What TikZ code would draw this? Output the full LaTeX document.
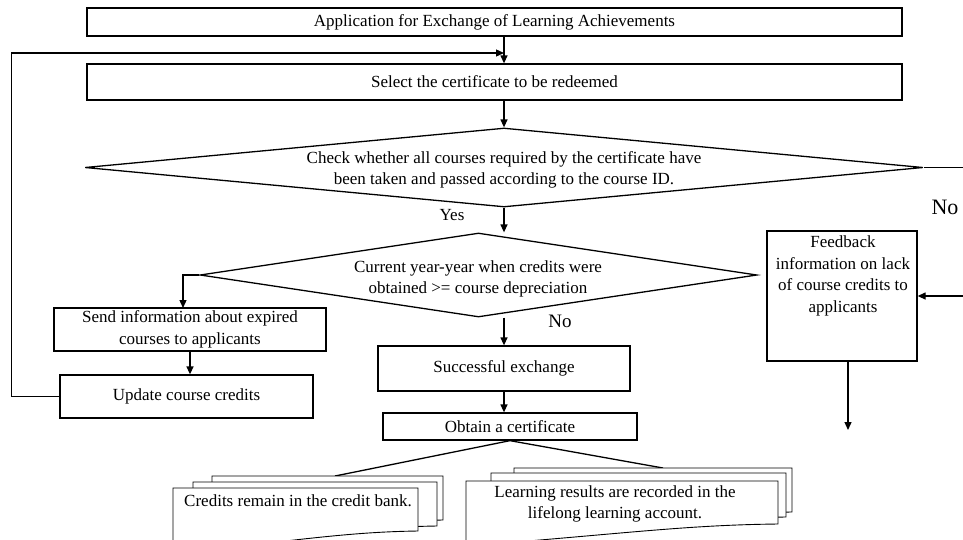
\documentclass[tikz,border=0pt]{standalone}
\usepackage{fontspec}
\setmainfont{Liberation Serif}
\usetikzlibrary{shapes.geometric,arrows.meta}
\begin{document}
\begin{tikzpicture}[x=1pt,y=-1pt,
  font=\fontsize{17}{21.5}\selectfont,
  box/.style={draw,line width=1.3pt,inner sep=0pt,align=center},
  dia/.style={draw,diamond,line width=1.3pt,inner sep=0pt},
  arr/.style={line width=1.3pt,-{Triangle[length=8pt,width=7pt]}},
  ln/.style={line width=1.3pt},
  doc/.style={line width=0.9pt,fill=white},
  txt/.style={inner sep=0pt,align=center}]
\clip (0,0) rectangle (963,539);
\fill[white] (0,0) rectangle (963,539);

% boxes
\node[box,minimum width=815pt,minimum height=28pt] (b1) at (494.5,22) {Application for Exchange of Learning Achievements};
\node[box,minimum width=815pt,minimum height=36pt] (b2) at (494.5,82) {Select the certificate to be redeemed};
\node[dia,minimum width=838pt,minimum height=79pt] (d1) at (504,167.5) {};
\node[txt] (t1) at (504,170) {Check whether all courses required by the certificate have\\been taken and passed according to the course ID.};
\node[dia,minimum width=557pt,minimum height=84pt] (d2) at (478.5,275) {};
\node[txt] (t2) at (478,279) {Current year-year when credits were\\obtained >= course depreciation};
\node[box,minimum width=272pt,minimum height=43pt] (send) at (190,329.5) {Send information about expired\\courses to applicants};
\node[box,minimum width=253pt,minimum height=43pt] (upd) at (186.5,396.5) {Update course credits};
\node[box,minimum width=252pt,minimum height=45pt] (succ) at (504,368.5) {Successful exchange};
\node[box,minimum width=254pt,minimum height=27pt] (obt) at (510,426.5) {Obtain a certificate};
\node[box,minimum width=150pt,minimum height=130pt] (fb) at (842,296) {};
\node[txt] (fbt) at (843,276) {Feedback\\information on lack\\of course credits to\\applicants};

% labels
\node[txt] (yes) at (452,215) {Yes};
\node[txt,font=\fontsize{19}{22}\selectfont] (no1) at (560,321) {No};
\node[txt,font=\fontsize{22}{26}\selectfont] (no2) at (945,207) {No};

% connectors
\coordinate (m) at (504,53);
\draw[arr] (b1.south -| m) -- (b2.north -| m);
\draw[arr] (b2.south -| m) -- (d1.north);
\draw[arr] (d1.south) -- (d1.south |- d2.north);
\draw[arr] (d2.south -| succ.north) -- (succ.north);
\draw[arr] (succ.south) -- (succ.south |- obt.north);
\coordinate (lb) at (183,308);
\draw[arr] (d2.west) -| (lb);
\draw[arr] (send.south) -- (send.south |- upd.north);
\draw[arr] (upd.west) -- ++(-48,0) |- (m);
\coordinate (ne) at (975,167.5);
\draw[arr] (d1.east) -- (ne) |- (fb.east);
\coordinate (fbe) at (848,430);
\draw[arr] (fbe |- fb.south) -- (fbe);

% document stacks
\coordinate (ld) at (335,476);
\coordinate (rd) at (663,468);
\draw[ln] (obt.south) -- (ld);
\draw[ln] (obt.south) -- (rd);

\draw[doc] (212,476) -- (443,476) -- (443,520) .. controls (374,521) and (327,530) .. (212,542) -- cycle;
\draw[doc] (193,482) -- (437,482) -- (437,526) .. controls (364,527) and (315,536) .. (193,548) -- cycle;
\draw[doc] (173,488) -- (418,488) -- (418,531) .. controls (344.5,532) and (295.5,541) .. (173,553) -- cycle;

\draw[doc] (514,468) -- (792,468) -- (792,512) .. controls (709,513) and (653,522) .. (514,534) -- cycle;
\draw[doc] (491,473) -- (786,473) -- (786,517) .. controls (698,518) and (639,527) .. (491,539) -- cycle;
\draw[doc] (466,481) -- (778,481) -- (778,524) .. controls (684,525) and (622,534) .. (466,546) -- cycle;

\node[txt] (lt) at (298,501) {Credits remain in the credit bank.};
\node[txt] (rt) at (615,504) {Learning results are recorded in the\\lifelong learning account.};
\end{tikzpicture}
\end{document}
